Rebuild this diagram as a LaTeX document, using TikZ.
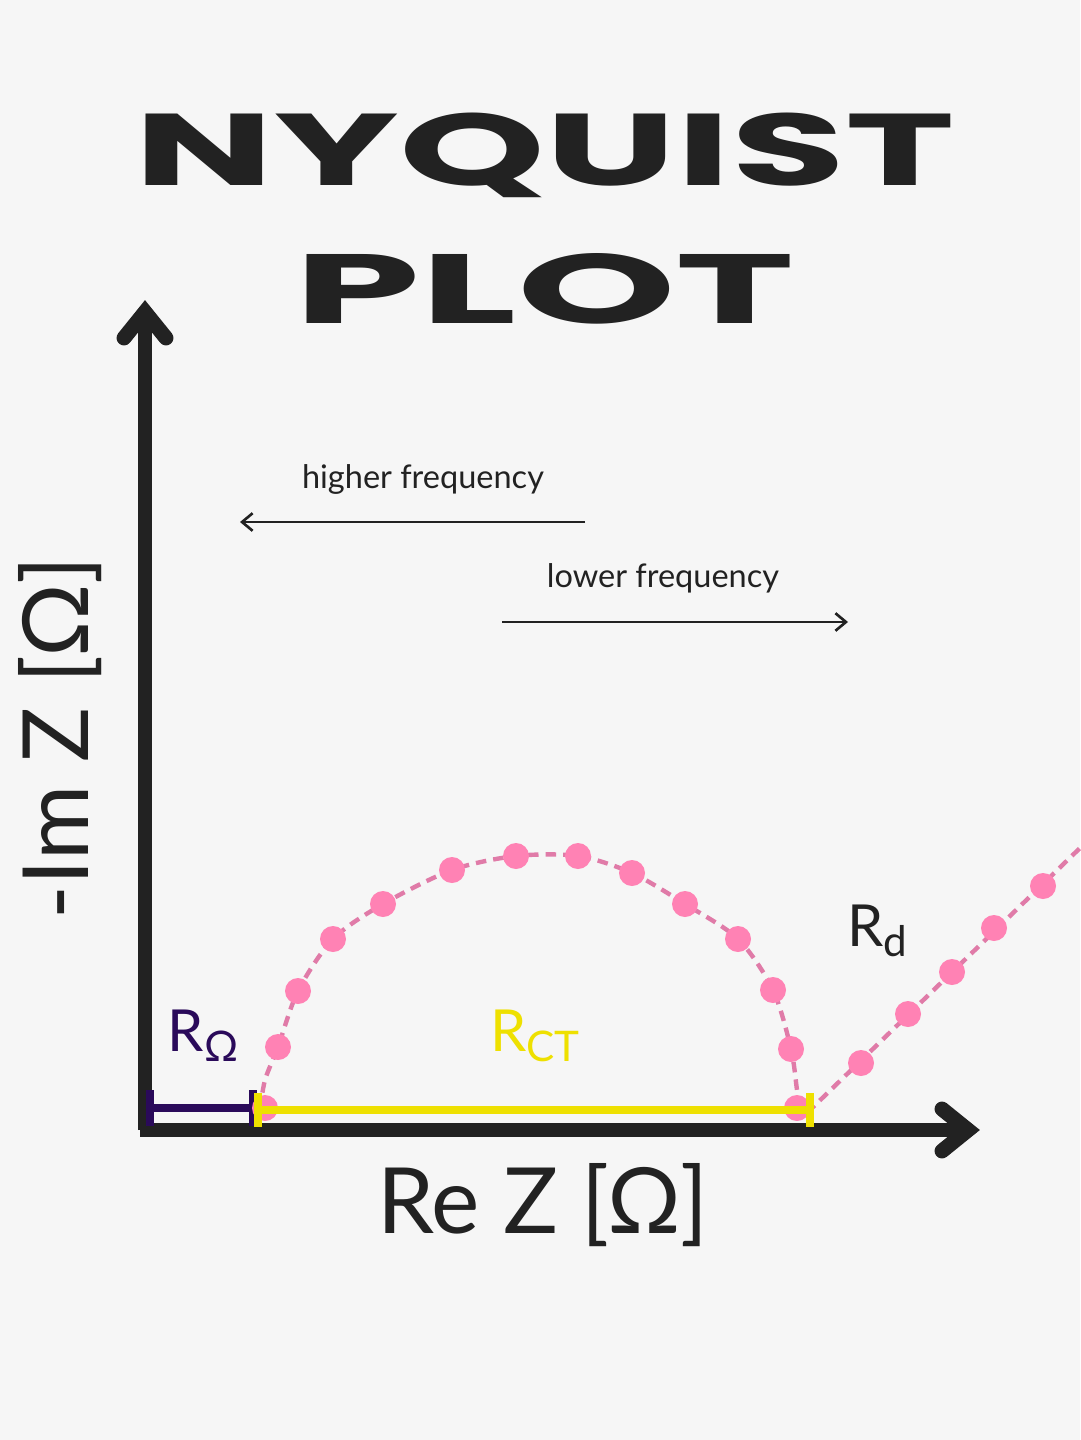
\documentclass[tikz,border=0pt]{standalone}
\usepackage{fontspec}
\setmainfont{Lato}
\newfontfamily\titlefont{Poppins}
\usetikzlibrary{arrows.meta}
\definecolor{bg}{HTML}{F6F6F6}
\definecolor{ink}{HTML}{222222}
\definecolor{dotpink}{HTML}{FF82B4}
\definecolor{linepink}{HTML}{E07BA8}
\definecolor{rpurple}{HTML}{2A0A5A}
\definecolor{ryellow}{HTML}{EEE000}
\begin{document}
\begin{tikzpicture}[x=0.02cm,y=-0.02cm,
  freq/.style={ink,line width=1.5pt,-{Straight Barb[length=6pt,width=10pt]}},
  dot/.style={circle,fill=dotpink,inner sep=0pt,minimum size=0.52cm},
  lbl/.style={font=\fontsize{18.5}{22}\selectfont,text=ink}]
\fill[bg] (0,0) rectangle (1080,1440);
\useasboundingbox (0,0) rectangle (1080,1440);
% title
\node[ink] (t1) at (545,155) {\resizebox{16.4cm}{1.45cm}{\titlefont\bfseries NYQUIST}};
\node[ink] (t2) at (545,289) {\resizebox{10cm}{1.4cm}{\titlefont\bfseries PLOT}};
% axes
\coordinate (o) at (145,1130);
\coordinate (ytop) at (145,312);
\coordinate (xend) at (968,1130);
\draw[ink,line width=8.5pt] (o) -- (ytop);
\draw[ink,line width=8.5pt] (140,1130) -- (xend);
\draw[ink,line width=8.5pt,line cap=round,line join=miter] (124,338) -- (ytop) -- (166,338);
\draw[ink,line width=8.5pt,line cap=round,line join=miter] (942,1109) -- (xend) -- (942,1151);
% axis labels
\node[text=ink,rotate=90,font=\fontsize{52}{60}\selectfont] (yl) at (60,738) {-Im Z [Ω]};
\node[text=ink,font=\fontsize{52}{60}\selectfont] (xl) at (543,1205) {Re Z [Ω]};
% frequency arrows
\node[lbl] (hf) at (423,479) {higher frequency};
\coordinate (h1) at (585,522); \coordinate (h2) at (240,522);
\draw[freq] (h1) -- (h2);
\node[lbl] (lf) at (663,578) {lower frequency};
\coordinate (l1) at (502,622); \coordinate (l2) at (848,622);
\draw[freq] (l1) -- (l2);
% dashed curve
\draw[linepink,line width=2.5pt,dash pattern=on 6pt off 4pt] plot[smooth] coordinates {(260,1110)(265,1080)(278,1047)(298,991)(333,939)(383,904)(452,870)(516,856)(578,856)(632,873)(685,904)(738,939)(773,990)(791,1049)(797,1090)(800,1108)} -- (810,1110) -- (1080,848);
% bars
\draw[rpurple,line width=5pt] (150,1108) -- (253,1108);
\draw[rpurple,line width=5pt] (150,1090) -- (150,1126) (253,1090) -- (253,1126);
\foreach \p [count=\i] in {(265,1108),(278,1047),(298,991),(333,939),(383,904),(452,870),(516,856),(578,856),(632,873),(685,904),(738,939),(773,990),(791,1049),(797,1108),(861,1063),(908,1014),(952,972),(994,928),(1043,886)}
  \node[dot] (d\i) at \p {};
\draw[ryellow,line width=5pt] (258,1110) -- (810,1110);
\draw[ryellow,line width=5pt] (258,1093) -- (258,1127) (810,1093) -- (810,1127);
% labels
\node[text=rpurple,font=\fontsize{33}{36}\selectfont] (ro) at (203,1036) {R\raisebox{-0.35ex}{\fontsize{24}{26}\selectfont Ω}};
\node[text=ryellow,font=\fontsize{33}{36}\selectfont] (rct) at (535,1036) {R\raisebox{-0.35ex}{\fontsize{24}{26}\selectfont CT}};
\node[text=ink,font=\fontsize{33}{36}\selectfont] (rd) at (877,931) {R\raisebox{-0.35ex}{\fontsize{24}{26}\selectfont d}};
\end{tikzpicture}
\end{document}
